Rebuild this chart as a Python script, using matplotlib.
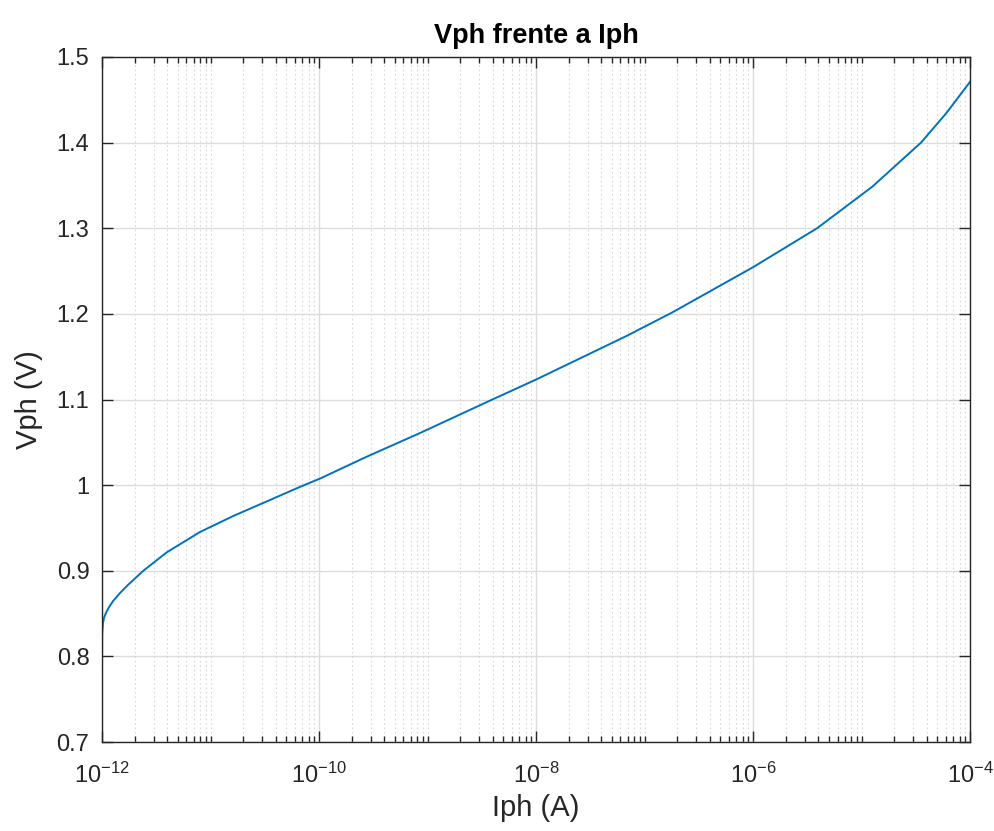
import numpy as np
import matplotlib.pyplot as plt
from matplotlib.ticker import LogLocator, NullFormatter, FixedLocator

plt.rcParams['font.family'] = ['Liberation Sans', 'DejaVu Sans']
plt.rcParams['mathtext.fontset'] = 'custom'
plt.rcParams['mathtext.rm'] = 'Liberation Sans'
plt.rcParams['mathtext.it'] = 'Liberation Sans'
plt.rcParams['axes.unicode_minus'] = False

# valores
Iph = [1.0e-12, 1.0042e-12, 1.0193e-12, 1.0433e-12, 1.0886e-12, 1.1603e-12,
       1.2711e-12, 1.4654e-12, 1.7359e-12, 2.4027e-12, 3.947e-12, 8.0e-12,
       1.622e-11, 3.296e-11, 6.683e-11, 1.0214e-10, 2.73e-10, 8.4e-10,
       3.96e-9, 1.0e-8, 6.7e-8, 1.79e-7, 1.0e-6, 3.89e-6, 1.26e-5,
       3.53e-5, 6.0e-5, 1.0e-4]
Vph = [0.776, 0.826, 0.838, 0.845, 0.851, 0.8575,
       0.865, 0.874, 0.8835, 0.900, 0.9215, 0.9453,
       0.964, 0.981, 0.998, 1.0077, 1.033, 1.0605,
       1.100, 1.1233, 1.1737, 1.2015, 1.2545, 1.300, 1.3487,
       1.400, 1.434, 1.471]

xticks = [1e-12, 1e-10, 1e-8, 1e-6, 1e-4]
xlabels = ['$10^{-12}$', '$10^{-10}$', '$10^{-8}$', '$10^{-6}$', '$10^{-4}$']
yticks = [0.7, 0.8, 0.9, 1.0, 1.1, 1.2, 1.3, 1.4, 1.5]
ylabels = ['0.7', '0.8', '0.9', '1', '1.1', '1.2', '1.3', '1.4', '1.5']

fig = plt.figure(figsize=(9.95, 8.31), dpi=100)
ax = fig.add_axes([0.1025, 0.107, 0.8725, 0.8245])

ax.semilogx(Iph, Vph, color='#0072BD', linewidth=1.4)

ax.set_xlim(1e-12, 1e-4)
ax.set_ylim(0.7, 1.5)
ax.xaxis.set_major_locator(FixedLocator(xticks))
ax.set_xticklabels(xlabels)
ax.xaxis.set_minor_locator(LogLocator(base=10, subs=np.arange(1, 10), numticks=100))
ax.xaxis.set_minor_formatter(NullFormatter())
ax.set_yticks(yticks)
ax.set_yticklabels(ylabels)

gc = '#262626'
ax.grid(True, which='major', color='#dcdcdc', linewidth=1.0, linestyle='-')
ax.grid(True, which='minor', axis='x', color='#d8d8d8', linewidth=0.8, linestyle=(0, (1.5, 2.5)))
ax.set_axisbelow(True)

ax.tick_params(which='both', direction='in', top=True, right=True, colors=gc,
               labelsize=17, width=1.0)
ax.tick_params(which='major', length=8)
ax.tick_params(axis='y', which='major', pad=9)
ax.tick_params(axis='x', which='major', pad=15)
ax.tick_params(which='minor', length=4)
for s in ax.spines.values():
    s.set_color(gc)
    s.set_linewidth(1.0)

ax.set_title('Vph frente a Iph', fontsize=19.5, fontweight='bold', color='black', pad=10)
ax.set_xlabel('Iph (A)', fontsize=21, color=gc, labelpad=4)
ax.set_ylabel('Vph (V)', fontsize=21, color=gc, labelpad=10)

fig.savefig('out.png', dpi=100, facecolor='white')
